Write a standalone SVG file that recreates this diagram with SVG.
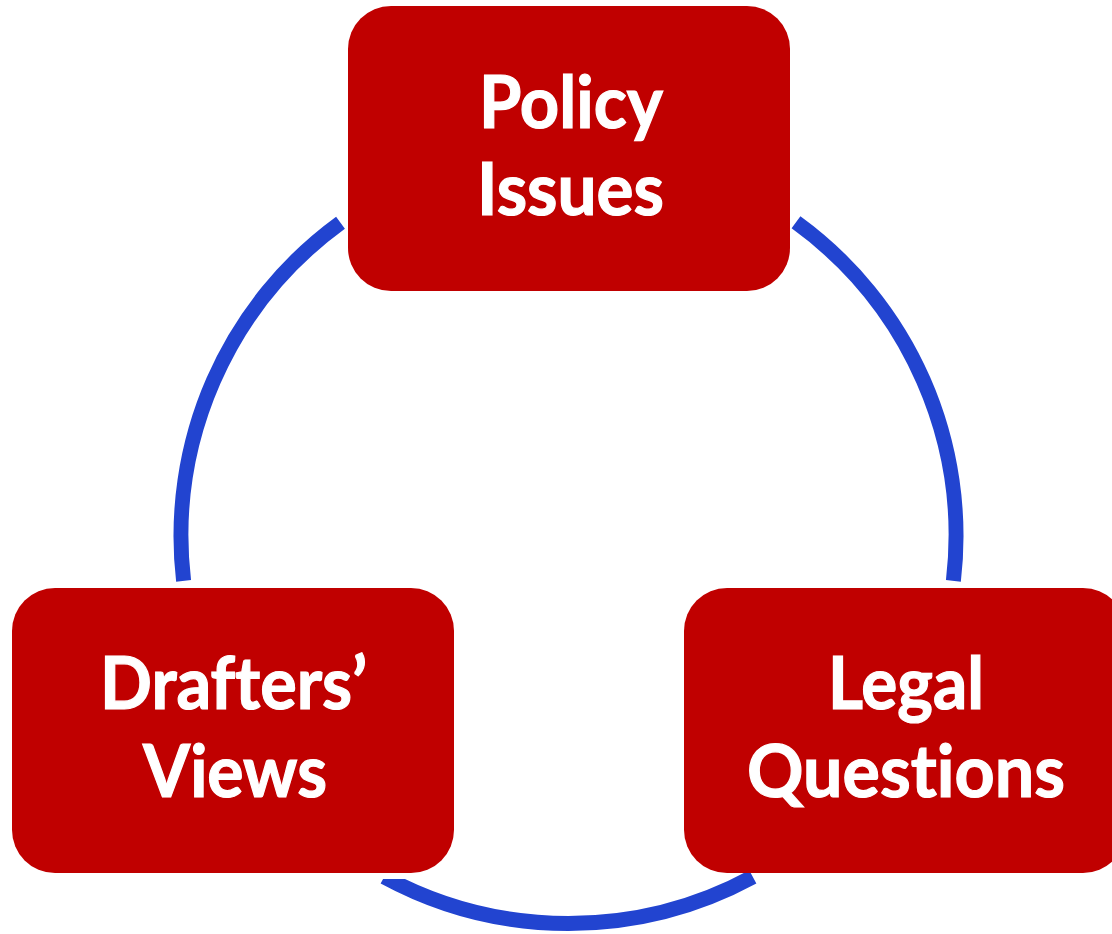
<svg xmlns="http://www.w3.org/2000/svg" width="1112" height="934" viewBox="0 0 1112 934">
  <style>
    .arc { fill: none; stroke: #2244D0; stroke-width: 15; stroke-linecap: butt; }
    .box { fill: #C00000; }
    .label { font-family: Lato, "Open Sans", "Liberation Sans", sans-serif; font-weight: 700; font-size: 72px; fill: #FFFFFF; stroke: #FFFFFF; stroke-width: 1.2; text-anchor: middle; font-variant-ligatures: none; font-feature-settings: "liga" 0, "clig" 0; }
  </style>
  <defs>
    <!-- keeps the lower arc's left end square to the gap below the left box -->
    <clipPath id="lowerClip">
      <path d="M0,879 H500 V0 H1112 V934 H0 Z"/>
    </clipPath>
  </defs>
  <rect width="1112" height="934" fill="#FFFFFF"/>

  <!-- cycle ring, split into three arcs between the boxes -->
  <g id="connectors">
    <path class="arc" d="M183.6,580.9 A387.5,387.5 0 0 1 340.5,222.7"/>
    <path class="arc" d="M796,222.3 A387.5,387.5 0 0 1 953.4,580.9"/>
    <path class="arc" clip-path="url(#lowerClip)" d="M752.8,876.8 A387.5,387.5 0 0 1 384.2,876.8"/>
  </g>

  <g id="policy-issues">
    <rect class="box" x="348" y="6" width="442" height="285" rx="43" ry="43"/>
    <text class="label" x="571" y="128" textLength="184" lengthAdjust="spacingAndGlyphs">Policy</text>
    <text class="label" x="570.5" y="215" textLength="187" lengthAdjust="spacingAndGlyphs">Issues</text>
  </g>

  <g id="legal-questions">
    <rect class="box" x="684" y="588" width="442" height="285" rx="43" ry="43"/>
    <text class="label" x="906" y="709" textLength="156" lengthAdjust="spacingAndGlyphs">Legal</text>
    <text class="label" x="906" y="797" textLength="318" lengthAdjust="spacingAndGlyphs">Questions</text>
  </g>

  <g id="drafters-views">
    <rect class="box" x="12" y="588" width="442" height="285" rx="43" ry="43"/>
    <text class="label" x="233.5" y="709" textLength="267" lengthAdjust="spacingAndGlyphs">Drafters’</text>
    <text class="label" x="235" y="797" textLength="184" lengthAdjust="spacingAndGlyphs">Views</text>
  </g>
</svg>
